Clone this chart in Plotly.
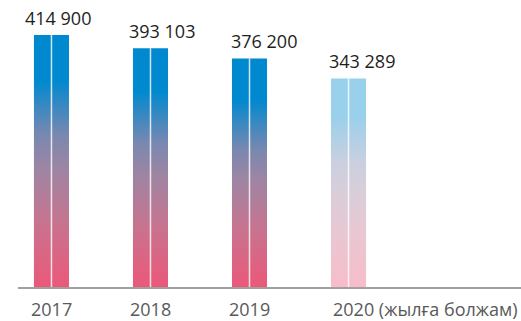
import plotly.graph_objects as go

# Annual figures (2020 is a forecast)
years = ["2017", "2018", "2019", "2020"]
values = [414900, 393103, 376200, 343289]
value_labels = ["414 900", "393 103", "376 200", "343 289"]
tick_labels = ["2017", "2018", "2019", "2020 (жылға болжам)"]
is_forecast = [False, False, False, True]

BLUE = "#0089CF"
PINK = "#EB5879"
GRADIENT = [
    [0.0, PINK],
    [0.25, "#C8738F"],
    [0.47, "#9D85A3"],
    [0.60, "#7A88B0"],
    [0.82, BLUE],
    [1.0, BLUE],
]
HALF_W = 0.177
label_xshift = [7, 12, 14, 13]

fig = go.Figure()

for i, (v, fc) in enumerate(zip(values, is_forecast)):
    left, right = i - HALF_W, i + HALF_W
    # bar body with a vertical pink-to-blue gradient
    fig.add_trace(go.Scatter(
        x=[left, left, right, right, left],
        y=[0, v, v, 0, 0],
        mode="lines",
        fill="toself",
        line=dict(width=0, color="rgba(0,0,0,0)"),
        fillgradient=dict(type="vertical", colorscale=GRADIENT, start=0, stop=v),
        opacity=0.4 if fc else 1.0,
        hoverinfo="skip",
        showlegend=False,
    ))
    # thin light divider down the middle of the bar
    fig.add_trace(go.Scatter(
        x=[i, i], y=[0, v],
        mode="lines",
        line=dict(width=1.5, color="rgba(255,255,255,0.8)"),
        hoverinfo="skip",
        showlegend=False,
    ))
    # value label above the bar
    fig.add_annotation(
        x=i, y=v, text=value_labels[i],
        xref="x", yref="y",
        xanchor="center", yanchor="bottom",
        xshift=label_xshift[i], yshift=3,
        showarrow=False,
        font=dict(family="Open Sans", size=18, color="#1e1e1e"),
    )

# category labels under the axis
for i, t in enumerate(tick_labels):
    last = i == len(tick_labels) - 1
    fig.add_annotation(
        x=i - HALF_W if last else i, y=0,
        xref="x", yref="paper",
        text=t,
        xanchor="left" if last else "center",
        yanchor="top",
        yshift=-8,
        showarrow=False,
        font=dict(family="Open Sans", size=18, color="#595959"),
    )

fig.update_layout(
    width=521, height=321,
    margin=dict(l=18, r=0, t=0, b=34),
    paper_bgcolor="white",
    plot_bgcolor="white",
    xaxis=dict(
        range=[-0.338, 4.742],
        showgrid=False, zeroline=False,
        showticklabels=False, ticks="",
        showline=True, linecolor="#a0a0a0", linewidth=2,
        fixedrange=True,
    ),
    yaxis=dict(
        range=[0, 472500],
        showgrid=False, zeroline=False,
        showticklabels=False, ticks="", showline=False,
        fixedrange=True,
    ),
)

fig.write_html("out.html")
